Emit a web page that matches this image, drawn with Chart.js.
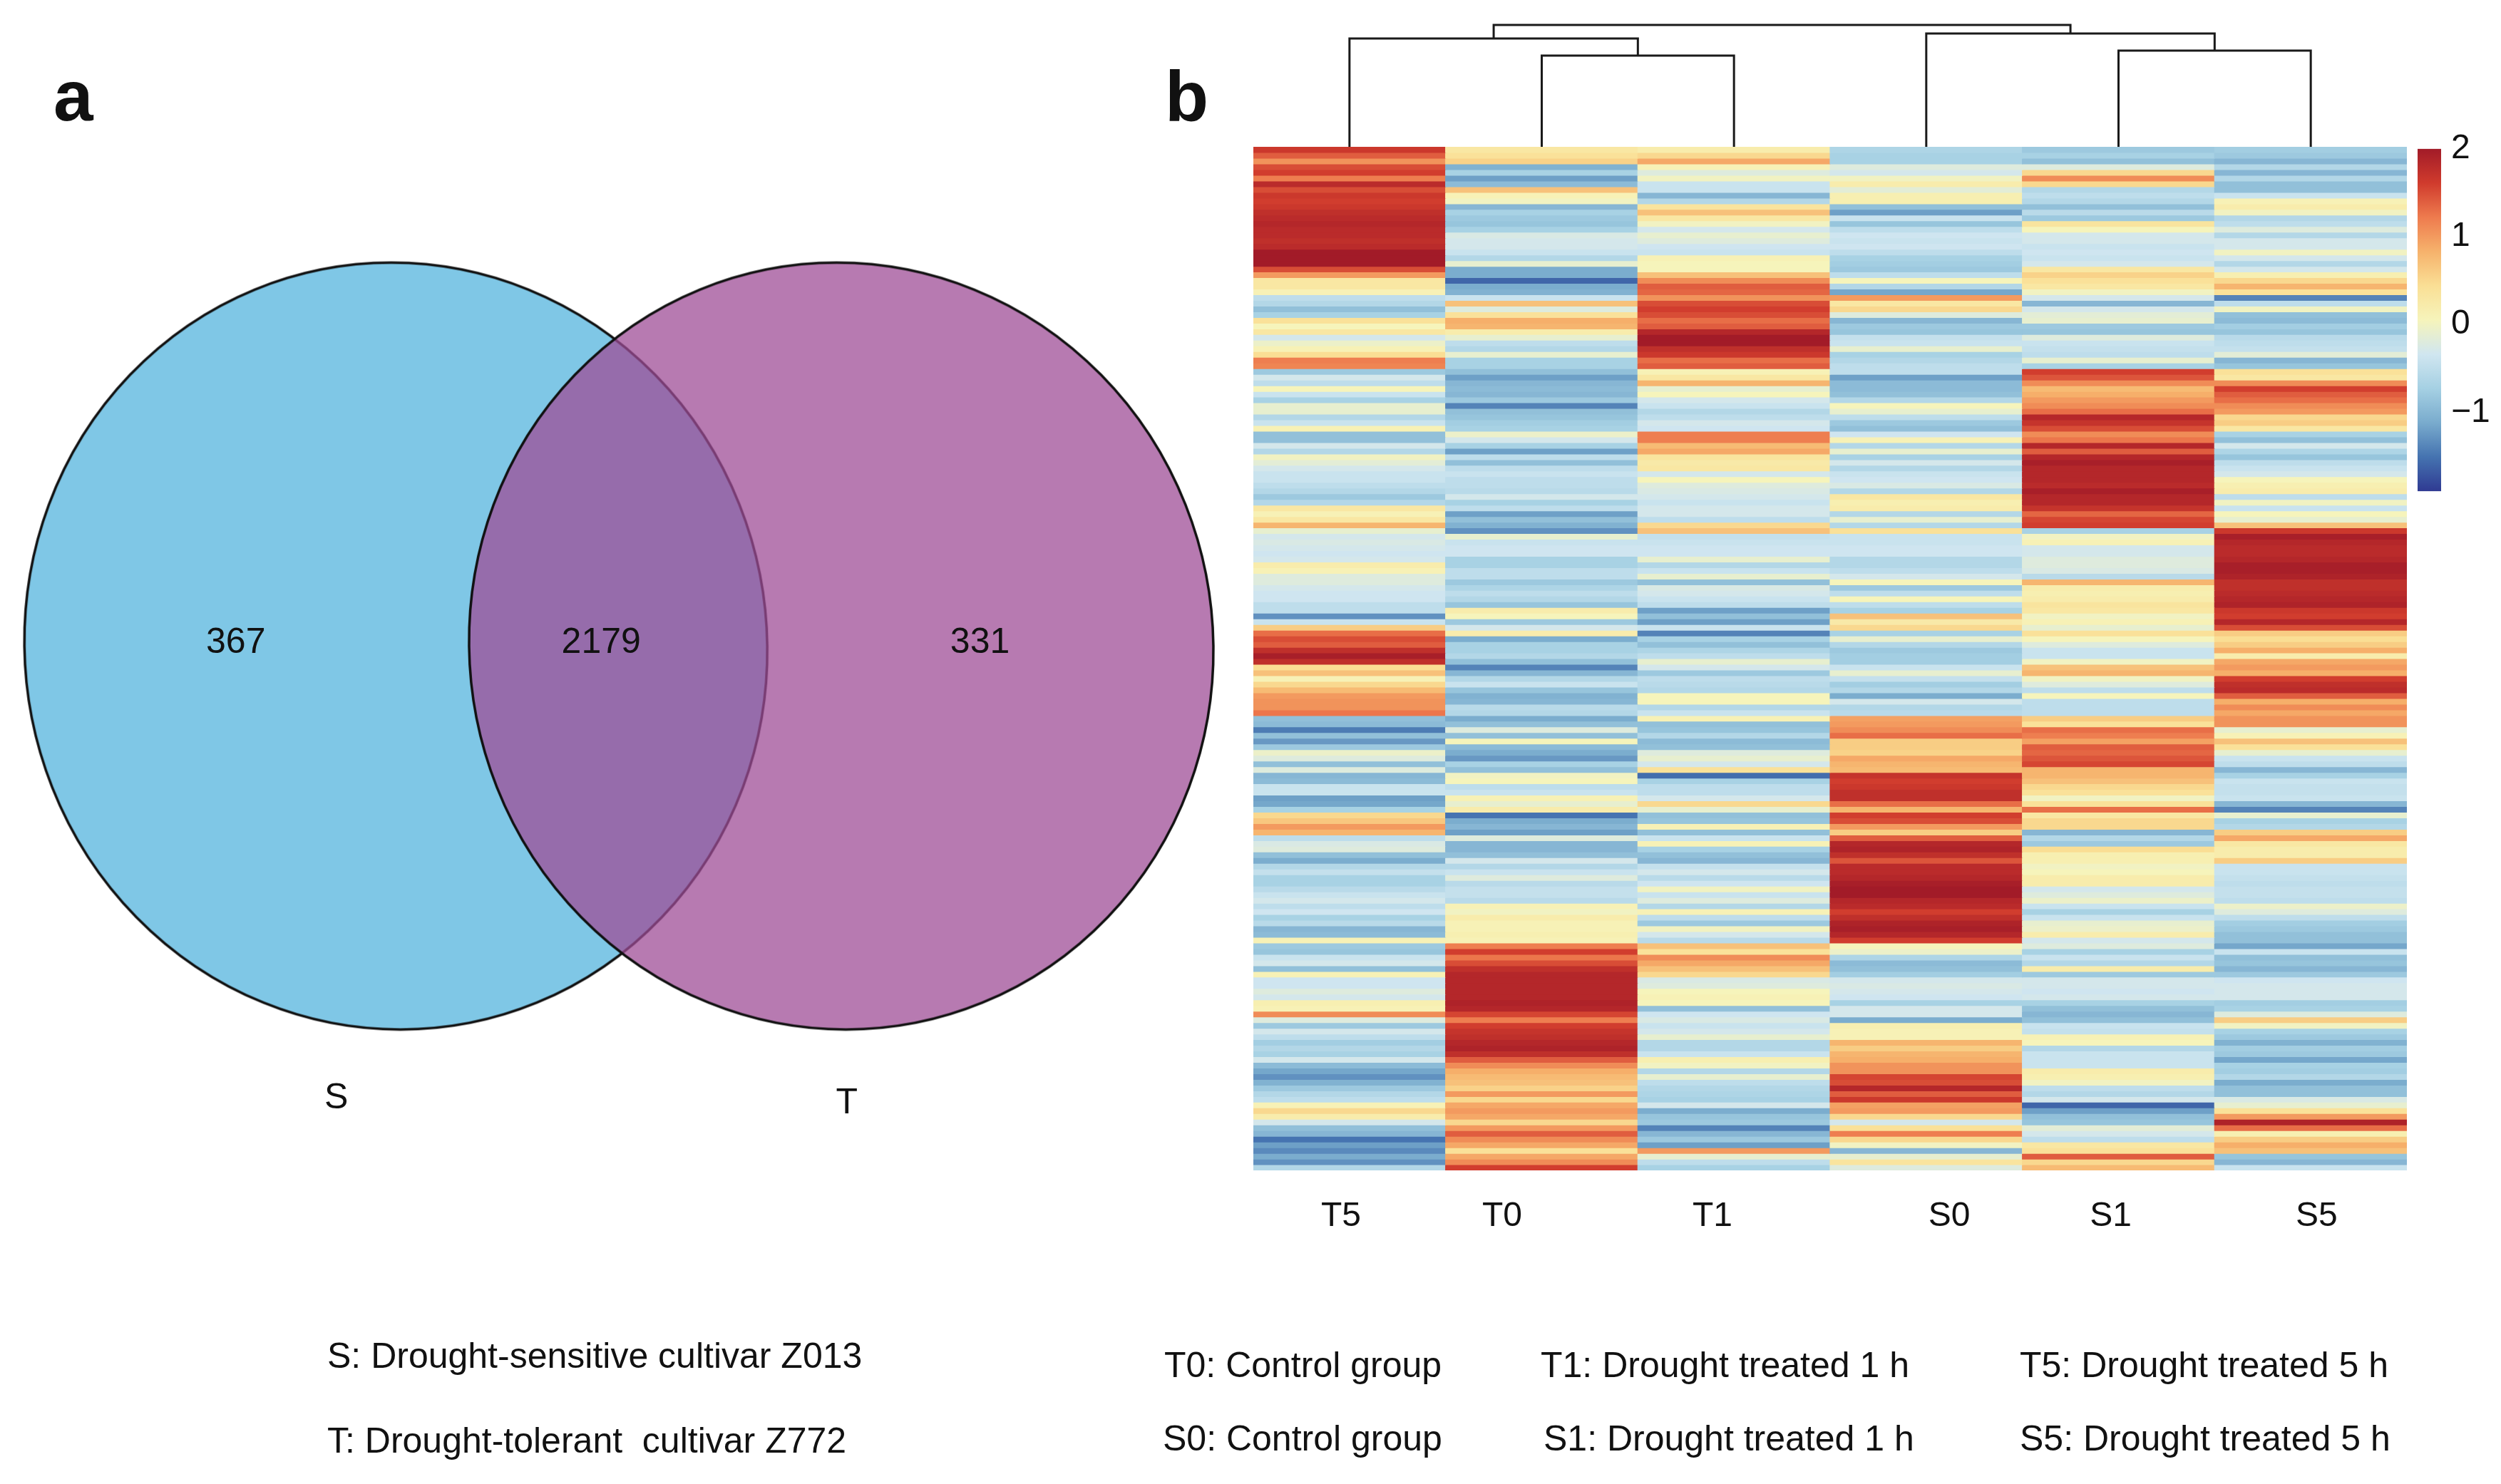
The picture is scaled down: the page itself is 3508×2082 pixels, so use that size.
<!DOCTYPE html>
<html>
<head>
<meta charset="utf-8">
<script src="https://cdn.jsdelivr.net/npm/chart.js@4/dist/chart.umd.js"></script>
<style>
html,body{margin:0;padding:0;background:#fff;}
#page{position:relative;width:3508px;height:2082px;overflow:hidden;font-family:"Liberation Sans",Arial,sans-serif;color:#111;}
canvas{position:absolute;display:block;}
.txt{position:absolute;white-space:pre;line-height:1;}
</style>
</head>
<body>
<div id="page">
<canvas id="venn" width="1750" height="1650" style="left:0;top:0"></canvas>
<canvas id="dendro" width="1618" height="200" style="left:1758px;top:6px"></canvas>
<canvas id="heat" width="1618" height="1526" style="left:1758px;top:206px"></canvas>
<canvas id="colorbar" width="117" height="566" style="left:3391px;top:166px"></canvas>
</div>
<script>
// venn part
let vennNames = ['S', 'T'];
let vennCounts = ['367', '2179', '331'];
let vennCountX = [327, 843, 1378];
let vennCountY = [903, 903, 903];
let vennCenterX = [553, 1182];
let vennCenterY = [907, 907];
let vennNameX = [469, 1190];
let vennNameY = [1546, 1554];

// heatmap part, each column read top to bottom
let columns = ['T5', 'T0', 'T1', 'S0', 'S1', 'S5'];
let tickPositions = [0.456, 1.294, 2.388, 3.62, 4.46, 5.53];
let colorTicks = [2, 1, 0, -1];
let T5 = [
1.65,1.4,1.05,1.5,1.6,1.2,1.8,1.5,1.65,1.6,1.65,1.75,1.8,1.85,1.8,1.8,1.75,1.8,2,2,2,1.5,1.0,.3,.3,.1,-.5,-.6,-.9,-.7,
.4,.05,.3,-.3,-.05,.1,.45,1.2,1.15,-.8,-.3,-.5,.05,-.4,-.7,-.1,-.1,-.6,-.4,.1,-.9,-.9,-.3,-.6,0,-.15,-.3,-.4,-.4,-.5,
-.6,-.8,-.6,.3,.1,.3,.8,-.1,-.3,-.25,-.3,-.35,-.3,.2,.1,-.2,-.2,-.3,-.35,-.35,-.5,-.5,-1.3,-.4,.6,1.3,1.5,1.4,1.75,1.95,
1.75,.45,.7,.1,.5,.75,1.0,1.05,1.05,1.25,-.9,-.95,-1.45,-.9,-1.25,-.8,-.05,-.2,-.9,-.2,-1.0,-.95,-.4,-.4,-1.2,-1.15,-.7,.5,.65,1.0,
.8,-.5,-.25,-.2,-.9,-1.1,-.6,-.45,-.7,-.7,-.55,-.4,-.3,-.5,-.35,-.7,-.55,-1.0,-.95,.1,-.8,-.85,-.4,-.3,-.9,.1,-.35,-.35,-.2,-.3,
.15,.1,1.1,-.2,-.8,-.3,-.5,-.75,-.6,-.7,-.3,-.95,-1.15,-1.3,-1.05,-.8,-.6,-.5,.1,.5,.2,-.3,-.9,-1.0,-1.5,-1.2,-1.35,-1.1,-1.3,-.6
];
let T0 = [
.3,.4,.55,-1.05,-.7,-1.2,-.95,.7,.1,0,-1.0,-.7,-.8,-.85,-.7,-.25,-.3,-.3,-.4,-.6,-.1,-1.1,-1.1,-1.6,-1.1,-1.05,-.4,.7,-.2,.4,
.85,.8,.2,-.1,-.5,-.6,-.1,-.7,-.7,-.9,-1.2,-1.0,-.95,-1.0,-.8,-1.4,-.9,-.85,-.75,-.7,-.05,-.3,-.7,-1.2,-.5,-.9,-.5,-.4,-.5,-.5,
-.55,-.3,-.7,-.5,-1.2,-.9,-1.05,-1.3,-.1,-.4,-.35,-.35,-.7,-.7,-.5,-.5,-.8,-.65,-.5,-.6,-.85,.2,.05,-.8,-.3,.2,-1.1,-.7,-.7,-.6,
-.9,-1.4,-1.0,-.6,-.4,-.85,-1.05,-1.0,-.55,-.6,-1.1,-.9,-.2,-.9,.05,-.95,-1.1,-1.25,-.7,-.9,.0,.05,-.5,-.4,.1,-.1,.2,-1.5,-1.1,-1.0,
-1.2,-.2,-1.0,-1.0,-.9,-.3,-.6,-.4,-.2,-.55,-.45,-.45,-.55,.1,0,.2,.1,.1,.15,.1,1.2,1.6,1.25,1.5,1.75,1.85,1.85,1.85,1.85,1.85,
1.9,1.85,1.55,1.2,1.6,1.7,1.75,1.85,1.9,1.75,1.4,1.1,.85,.75,.7,.55,1.0,.5,.9,1.0,.9,.5,1.0,1.4,1.1,.9,.4,.9,1.1,1.6
];
let T1 = [
.2,.5,.9,.1,-.2,0,-.4,-.4,-1.0,-.6,.35,.7,.3,0,-.3,-.1,-.2,-.35,-.4,.1,.05,.05,.7,1.1,1.4,1.35,1.05,1.5,1.6,1.5,
1.3,1.4,1.85,2,2,1.75,1.65,1.3,1.4,.1,.3,.8,-.1,.05,-.3,-.4,-.6,-.5,-.3,-.35,1.2,1.2,.75,.9,.35,.25,.3,-.3,.05,-.2,
-.25,-.3,-.4,-.3,-.3,-.5,.5,.7,-.45,-.4,-.35,-.35,-.1,-.6,-.4,-.1,-.9,-.25,-.3,-.4,-.5,-1.2,-.9,-1.2,-.4,-1.4,-.7,-.9,-.65,-.5,
-.1,-.3,-.8,-.5,-.55,-.6,.05,.05,-.6,-.4,.1,-.9,-.85,-.6,-.95,-.9,-.2,-.1,-.3,.4,-1.55,-.7,-.5,-.5,-.3,.5,-.1,-.9,-.85,.1,
-.9,-.4,.1,-.7,-.9,-1.0,-.45,-.3,-.55,-.35,0,-.4,-.2,-.6,.1,-.5,-.8,0,-.3,-.55,.7,.4,1.1,.9,.7,.5,-.25,-.2,.05,.1,
.05,-.9,-.35,-.25,-.4,-.3,-.1,-.6,-.6,-.4,.15,0,-.6,-.1,-.5,-.6,-.65,-.7,-.3,-1.1,-.85,-.8,-1.4,-1.0,-.8,-1.2,1.0,-.1,-.5,-.7
];
let S0 = [
-.65,-.7,-.7,-.2,-.3,0,.2,-.15,.15,.15,-.9,-1.2,-.4,-.85,-.5,-.35,-.4,-.35,-.5,-.7,-.75,-.8,-.5,.05,-.6,-1.15,1.0,.3,.5,-.2,
-1.0,-.8,-.85,-.45,-.4,-.1,-.7,-.6,-.5,-.5,-1.2,-.95,-.95,-.9,-.6,.05,-.1,-.5,-.8,-.9,-.35,.1,-.6,-.1,-.7,-.3,-.6,-.4,-.35,-.25,
-.6,.3,.15,.2,-.6,-.1,-.6,.4,-.4,-.4,-.35,-.35,-.6,-.6,-.5,-.3,.05,-.8,-.5,.05,-.5,-.7,.7,.25,.5,-.7,-.1,-.6,-.8,-.75,
-.75,-.4,-.1,-.45,-.75,-.6,-1.1,-.3,-.6,-.55,.95,1.0,1.1,1.3,.6,.6,.55,.9,.8,.75,1.7,1.6,1.65,1.75,1.75,1.3,.8,1.6,1.5,1.0,
.6,1.4,1.85,1.9,1.75,1.45,1.8,1.8,1.85,1.95,2,2,1.85,1.8,1.6,1.75,1.9,1.95,1.85,1.6,.05,-.05,-.65,-.95,-.9,-.75,-.3,-.25,-.3,-.35,
-.7,-.3,-.3,-1.1,.15,.1,.1,.8,.6,.8,.85,1.05,1.05,1.55,1.5,1.85,1.4,1.65,.95,1.0,.5,-.3,.4,1.2,.5,0,-1.0,-.1,.35,-.2
];
let S1 = [
-.8,-.7,-.9,-.2,.5,1.1,.5,-.6,-.5,-.6,-.9,-.55,-.8,.35,.05,-.3,-.3,-.4,-.35,-.4,-.3,.3,.55,.4,.3,0,-.3,-1.0,-.3,-.15,
-.1,-.8,-.85,-.2,-.4,-.45,-.5,-.1,-.7,1.6,1.45,1.1,.75,.85,1.0,1.1,1.3,1.85,1.7,1.5,1.1,1.25,1.85,1.4,1.85,1.95,1.85,1.85,1.85,1.8,
1.95,1.85,1.85,1.7,1.35,1.55,1.6,-.7,0,.1,-.3,-.3,-.2,-.2,-.25,-.55,.8,.2,.15,.2,.35,.3,0,.1,-.1,.4,.05,-.2,-.4,-.4,
.0,.7,.8,.0,-.2,-.5,.05,-.5,-.5,-.5,.6,.4,1.3,1.2,.95,1.4,1.35,1.45,1.55,.8,.8,.7,.5,.4,0,.4,1.3,.3,.5,.5,
-1.0,-.6,-.8,.45,.15,.15,0,.05,.2,.2,-.3,-.2,-.05,-.4,-.7,-.4,-.1,-.05,.2,-.3,-.2,-.7,-.4,-.6,.2,-.8,-.3,-.3,-.35,-.3,
-.7,-.9,-1.0,-.9,-.4,-.45,.1,.05,-.6,-.4,-.4,-.4,.2,.15,0,-.5,-.6,-.3,-1.6,-1.2,-.9,-.85,-.15,-.3,-.5,.3,.4,1.4,.5,.75
];
let S5 = [
-.75,-.8,-1.0,-.6,-1.0,-.6,-.9,-.9,-.4,.1,.2,0,-.6,-.5,-.2,-.6,-.3,-.3,0,-.3,-.6,-.3,.15,.5,.8,.4,-1.4,-.5,0,-.9,
-.95,-.75,-.85,-.55,-.5,-.45,-.15,-1.0,-.85,.4,.3,1.1,1.6,1.4,1.3,1.1,1.0,.5,.6,.3,-.7,-.9,-.3,-.65,-.85,-.5,-.4,-.3,.05,.15,
.2,-.5,0,-.4,.05,-.1,.7,1.65,1.95,1.85,1.8,1.8,1.85,1.95,1.95,1.9,1.75,1.75,1.8,1.85,1.9,1.65,1.6,1.85,1.5,.6,.45,.6,.85,.2,
.9,1.0,.85,1.6,1.75,1.8,1.4,.85,1.1,.9,1.05,1.05,-.1,.1,.7,.4,-.1,-.4,-.5,-1.0,-.7,-.4,-.45,-.45,-.4,-1.0,-1.4,-.1,-.7,-.6,
.6,.9,.3,.2,.2,.6,-.4,-.4,-.45,-.5,-.45,-.45,-.5,-.05,-.2,-.5,-.75,-.8,-.9,-.9,-1.15,-.4,-.9,-.85,-1.0,-.8,-.35,-.3,-.3,-.3,
-.75,-.7,-.2,.6,.0,-.7,-.8,-1.05,-.75,-.8,-1.15,-.7,-.75,-.6,-1.1,-.9,-.9,-.25,-.1,.4,1.0,1.9,1.3,.15,.6,.85,.7,-.85,-1.0,-.4
];
let heatValues = [T5, T0, T1, S0, S1, S5];
let rowCount = T5.length;

// dendrogram, x in column units, heights
let dendroX = [
[.5, .5, 2, 2],
[1.5, 1.5, 2.5, 2.5],
[3.5, 3.5, 5, 5],
[4.5, 4.5, 5.5, 5.5],
[1.25, 1.25, 4.25, 4.25]
];
let dendroH = [
[0, 152, 152, 128],
[0, 128, 128, 0],
[0, 159, 159, 135],
[0, 135, 135, 0],
[152, 171, 171, 159]
];

let rdYlBu = ['#2f3a92','#4573b0','#79abcd','#a5d0e3','#d0e6f0','#f6f4bb','#fadf95','#f6b26c','#ee7b4e','#d03b2d','#a21b28'];
let colorMin = -1.9, colorMax = 2;

function hexRgb(h){
    return [parseInt(h.slice(1,3),16), parseInt(h.slice(3,5),16), parseInt(h.slice(5,7),16)];
}
function colorOf(v){
    let t = (v-colorMin)/(colorMax-colorMin)*(rdYlBu.length-1);
    t = Math.max(0, Math.min(rdYlBu.length-1, t));
    let i = Math.min(Math.floor(t), rdYlBu.length-2);
    let a = hexRgb(rdYlBu[i]), b = hexRgb(rdYlBu[i+1]), f = t-i;
    return 'rgb('+Math.round(a[0]+(b[0]-a[0])*f)+','+Math.round(a[1]+(b[1]-a[1])*f)+','+Math.round(a[2]+(b[2]-a[2])*f)+')';
}

Chart.defaults.font.family = '"Liberation Sans", Arial, sans-serif';
Chart.defaults.animation = false;
Chart.defaults.responsive = false;
Chart.defaults.devicePixelRatio = 1;
Chart.defaults.plugins.legend.display = false;
Chart.defaults.plugins.tooltip.enabled = false;
Chart.defaults.events = [];

// the two sets are very slightly squashed in the figure, so a canvas point style is used
function setShape(fill, rx, ry){
    let c = document.createElement('canvas');
    c.width = rx*2+40;
    c.height = ry*2+40;
    let g = c.getContext('2d');
    g.translate(c.width/2, c.height/2);
    g.transform(1, 0, 0.012, 1, 0, 0);
    g.beginPath();
    g.ellipse(0, 0, rx, ry, 0, 0, Math.PI*2);
    g.fillStyle = fill;
    g.fill();
    g.lineWidth = 3.5;
    g.strokeStyle = '#111';
    g.stroke();
    return c;
}

let pointText = {
    id: 'pointText',
    afterDatasetsDraw(chart){
        let g = chart.ctx;
        g.save();
        g.fillStyle = '#111';
        g.font = '50px "Liberation Sans", Arial, sans-serif';
        g.textAlign = 'center';
        g.textBaseline = 'middle';
        chart.data.datasets.forEach((ds, k) => {
            if(!ds.pointText) return;
            ds.data.forEach((p, i) => {
                g.fillText(ds.pointText[i], chart.scales.x.getPixelForValue(p.x), chart.scales.y.getPixelForValue(p.y));
            });
        });
        g.restore();
    }
};

function pairs(xs, ys){
    return xs.map((x, i) => ({x: x, y: ys[i]}));
}

new Chart(document.getElementById('venn'), {
    type: 'scatter',
    data: {
        datasets: [
        {
            label: vennNames[0],
            data: [{x: vennCenterX[0], y: vennCenterY[0]}],
            pointStyle: setShape('#7fc7e6', 521, 538),
            pointRadius: 5,
            order: 3,
            clip: false,
        },
        {
            label: vennNames[1],
            data: [{x: vennCenterX[1], y: vennCenterY[1]}],
            pointStyle: setShape('rgba(158,76,150,0.74)', 522, 538),
            pointRadius: 5,
            order: 2,
            clip: false,
        },
        {
            label: 'counts',
            data: pairs(vennCountX, vennCountY),
            pointRadius: 0,
            pointText: vennCounts,
        },
        {
            label: 'names',
            data: pairs(vennNameX, vennNameY),
            pointRadius: 0,
            pointText: vennNames,
        }
        ]
    },
    options: {
        layout: {padding: 0},
        scales: {
            x: {display: false, min: 0, max: 1750},
            y: {display: false, min: 0, max: 1650, reverse: true},
        },
    },
    plugins: [pointText],
});

new Chart(document.getElementById('dendro'), {
    type: 'scatter',
    data: {
        datasets: dendroX.map((xs, i) => ({
            data: pairs(xs, dendroH[i]),
            showLine: true,
            pointRadius: 0,
            borderColor: '#1a1a1a',
            borderWidth: 3,
            clip: false,
        }))
    },
    options: {
        layout: {padding: 0},
        scales: {
            x: {display: false, min: 0, max: 6},
            y: {display: false, min: 0, max: 200},
        },
    },
});

let heatSets = [];
for(let r=0;r<rowCount;r++){
    heatSets.push({
        data: columns.map(() => [r, r+1]),
        backgroundColor: heatValues.map(col => colorOf(col[r])),
        borderWidth: 0,
        inflateAmount: 0.6,
        barPercentage: 1,
        categoryPercentage: 1,
        grouped: false,
    });
}

new Chart(document.getElementById('heat'), {
    type: 'bar',
    data: {labels: columns, datasets: heatSets},
    options: {
        layout: {padding: 0},
        scales: {
            x: {display: false},
            y: {display: false, reverse: true, min: 0, max: rowCount},
            names: {
                type: 'linear',
                position: 'bottom',
                offset: false,
                min: 0,
                max: columns.length,
                grid: {display: false, drawTicks: false},
                border: {display: false},
                afterBuildTicks: s => { s.ticks = tickPositions.map(v => ({value: v})); },
                afterFit: s => { s.height = 90; },
                ticks: {
                    autoSkip: false,
                    maxRotation: 0,
                    padding: 36,
                    color: '#111',
                    font: {size: 48},
                    callback: (v, i) => columns[i],
                },
            },
        },
    },
});

new Chart(document.getElementById('colorbar'), {
    type: 'bar',
    data: {
        labels: ['z'],
        datasets: [{
            data: [[colorMin, colorMax]],
            barPercentage: 1,
            categoryPercentage: 1,
            borderWidth: 0,
            backgroundColor: function(c){
                let a = c.chart.chartArea;
                if(!a) return '#fff';
                let g = c.chart.ctx.createLinearGradient(0, a.bottom, 0, a.top);
                rdYlBu.forEach((col, i) => g.addColorStop(i/(rdYlBu.length-1), col));
                return g;
            },
        }]
    },
    options: {
        layout: {padding: {top: 40, bottom: 40, left: 0, right: 0}},
        scales: {
            x: {display: false},
            y: {
                position: 'right',
                min: colorMin,
                max: colorMax,
                grid: {display: false, drawTicks: false},
                border: {display: false},
                afterBuildTicks: s => { s.ticks = colorTicks.map(v => ({value: v})); },
                afterFit: s => { s.width = 84; },
                ticks: {
                    padding: 14,
                    color: '#111',
                    font: {size: 48},
                    callback: v => v < 0 ? '\u2212' + Math.abs(v) : String(v),
                },
            },
        },
    },
});

// panel letters and the key below the plots
let notes = [
['a', 75, 84, 100, 'bold'],
['b', 1634, 85, 100, 'bold'],
['S: Drought-sensitive cultivar Z013', 459, 1877, 50, 'normal'],
['T: Drought-tolerant  cultivar Z772', 459, 1996, 50, 'normal'],
['T0: Control group', 1633, 1890, 50, 'normal'],
['T1: Drought treated 1 h', 2161, 1890, 50, 'normal'],
['T5: Drought treated 5 h', 2833, 1890, 50, 'normal'],
['S0: Control group', 1631, 1993, 50, 'normal'],
['S1: Drought treated 1 h', 2165, 1993, 50, 'normal'],
['S5: Drought treated 5 h', 2833, 1993, 50, 'normal'],
];
notes.forEach(n => {
    let d = document.createElement('div');
    d.className = 'txt';
    d.textContent = n[0];
    d.style.left = n[1] + 'px';
    d.style.top = n[2] + 'px';
    d.style.fontSize = n[3] + 'px';
    d.style.fontWeight = n[4];
    document.getElementById('page').appendChild(d);
});
</script>
</body>
</html>
